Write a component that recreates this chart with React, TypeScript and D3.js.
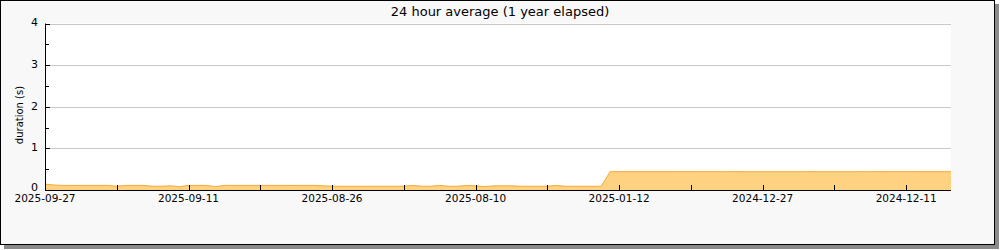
import React from "react";
import * as d3 from "d3";

const title = "24 hour average (1 year elapsed)";
const yLabel = "duration (s)";
const yTicks = [0, 1, 2, 3, 4];
const xLabels = ["2025-09-27", "2025-09-11", "2025-08-26", "2025-08-10", "2025-01-12", "2024-12-27", "2024-12-11"];
const lowValues = [
  0.14, 0.12, 0.11, 0.11, 0.11, 0.11, 0.11, 0.11, 0.09, 0.11,
  0.11, 0.11, 0.09, 0.09, 0.1, 0.08, 0.11, 0.11, 0.11, 0.08,
  0.11, 0.11, 0.11, 0.11, 0.11, 0.11, 0.11, 0.11, 0.11, 0.11,
  0.11, 0.1, 0.09, 0.09, 0.09, 0.09, 0.09, 0.09, 0.09, 0.09,
  0.09, 0.11, 0.09, 0.09, 0.11, 0.09, 0.09, 0.11, 0.1, 0.08,
  0.1, 0.1, 0.1, 0.09, 0.09, 0.09, 0.09, 0.11, 0.09, 0.09,
  0.09, 0.09, 0.09,
];
const highValues = [
  0.44, 0.44, 0.44, 0.44, 0.44, 0.44, 0.44, 0.44, 0.44, 0.44,
  0.44, 0.44, 0.44, 0.44, 0.44, 0.44, 0.44, 0.44, 0.44, 0.44,
  0.44, 0.44, 0.44, 0.44, 0.44, 0.44, 0.44, 0.44, 0.44, 0.44,
  0.44, 0.44, 0.44, 0.44, 0.44, 0.44, 0.44, 0.44, 0.44,
];
const values = [...lowValues, ...highValues];

const FONT = "DejaVu Sans, sans-serif";

export default function App() {
  const left = 45, right = 951, top = 23.5, bottom = 190;
  const n = values.length;
  const x = d3.scaleLinear().domain([0, n - 1]).range([left, right]);
  const y = d3.scaleLinear().domain([0, 4]).range([bottom, top]);
  const area = d3.area<number>().x((_, i) => x(i)).y0(y(0)).y1((d) => y(d));
  const line = d3.line<number>().x((_, i) => x(i)).y((d) => y(d));
  const minorY = d3.range(0, 4.01, 0.5);
  const xTickIdx = d3.range(0, n, 8);

  return (
    <svg width={1000} height={250} style={{ position: "fixed", left: 0, top: 0 }} fontFamily={FONT}>
      <rect x={4} y={4} width={995} height={245} fill="#8a8a8a" />
      <rect x={0.5} y={0.5} width={994} height={244} fill="#f8f8f8" stroke="#000" />
      <rect x={left} y={top} width={right - left} height={bottom - top} fill="#fff" />
      {yTicks.map((t) => (
        <line key={"g" + t} x1={left} x2={right} y1={Math.round(y(t)) + 0.5} y2={Math.round(y(t)) + 0.5} stroke="#c8c8c8" />
      ))}
      <path d={area(values) || ""} fill="#fed280" />
      <path d={line(values) || ""} fill="none" stroke="#f5a93a" strokeWidth={1} />
      {minorY.map((t) => (
        <line key={"yt" + t} x1={left} x2={left + (t % 1 === 0 ? 5 : 4)} y1={Math.round(y(t)) + 0.5} y2={Math.round(y(t)) + 0.5} stroke="#000" />
      ))}
      {xTickIdx.map((i) => (
        <line key={"xt" + i} x1={Math.round(x(i)) + 0.5} x2={Math.round(x(i)) + 0.5} y1={bottom} y2={bottom - 5} stroke="#000" />
      ))}
      <line x1={left + 0.5} x2={left + 0.5} y1={top} y2={bottom} stroke="#000" />
      <line x1={left} x2={right} y1={bottom + 0.5} y2={bottom + 0.5} stroke="#000" />
      {yTicks.map((t) => (
        <text key={"yl" + t} x={38} y={t === 0 ? 191 : y(t) + 2.8} textAnchor="end" fontSize={11} fill="#000">{t}</text>
      ))}
      {xLabels.map((lab, k) => (
        <text key={"xl" + k} x={x(k * 16)} y={202} textAnchor="middle" fontSize={10.5} fill="#000">{lab}</text>
      ))}
      <text x={500} y={16} textAnchor="middle" fontSize={13} fill="#000">{title}</text>
      <text transform={`translate(23,115) rotate(-90)`} textAnchor="middle" fontSize={10} fill="#000">{yLabel}</text>
    </svg>
  );
}
